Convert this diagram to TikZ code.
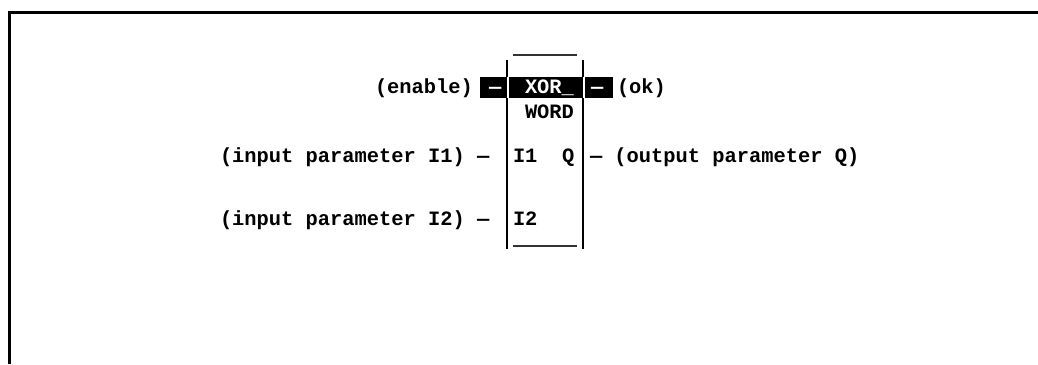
\documentclass[tikz,border=0pt]{standalone}
\usepackage{fontspec}
\setmonofont{Liberation Mono}
\begin{document}
\begin{tikzpicture}[x=1pt,y=-1pt,
  txt/.style={anchor=base west,inner sep=0pt,outer sep=0pt,font=\fontsize{20.4}{24}\selectfont\ttfamily\bfseries},
  inv/.style={txt,text=white},
  boxline/.style={line width=1.8pt},
  barline/.style={line width=1.3pt,black!80},
  frameline/.style={line width=3pt}]
\useasboundingbox (0,0) rectangle (1038,364);
% frame
\draw[frameline] (9,364) -- (9,12) -- (1040,12);
% highlight
\fill (480,77) rectangle (613,98);
% box
\draw[boxline] (507,60) -- (507,249);
\draw[boxline] (583,60) -- (583,249);
\draw[boxline,white] (508,77) -- (508,98);
\draw[boxline,white] (584,77) -- (584,98);
\draw[barline] (513,55) -- (577,55);
\draw[barline] (513,246) -- (577,246);
% texts
\node[txt] (en) at (375,93) {(enable)};
\node[inv] (d1) at (489,93) {—};
\node[inv] (xor) at (525,93) {XOR\_};
\node[inv] (d2) at (591,93) {—};
\node[txt] (ok) at (617,93) {(ok)};
\node[txt] (word) at (525,118) {WORD};
\node[txt] (i1p) at (220,162) {(input parameter I1) —};
\node[txt] (i1) at (513,162) {I1};
\node[txt] (q) at (562,162) {Q};
\node[txt] (qp) at (590,162) {— (output parameter Q)};
\node[txt] (i2p) at (220,225) {(input parameter I2) —};
\node[txt] (i2) at (513,225) {I2};
\end{tikzpicture}
\end{document}
